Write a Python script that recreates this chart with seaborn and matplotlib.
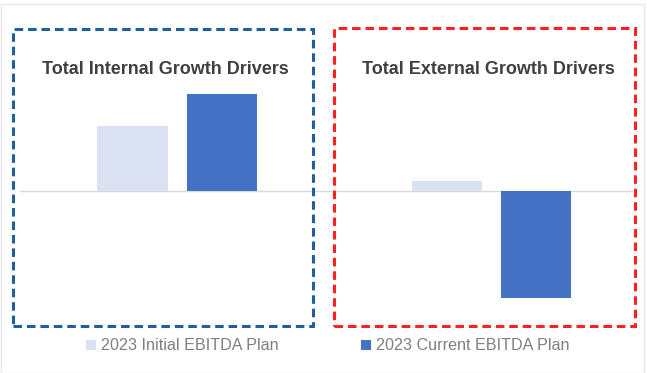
import matplotlib
matplotlib.use("Agg")
import matplotlib.pyplot as plt
import seaborn as sns
import pandas as pd
from matplotlib.patches import Rectangle

categories = ["Total Internal Growth Drivers", "Total External Growth Drivers"]
series = ["2023 Initial EBITDA Plan", "2023 Current EBITDA Plan"]
initial_plan = [65, 10]
current_plan = [97, -107]

df = pd.DataFrame({
    "category": categories * 2,
    "series": [series[0]] * 2 + [series[1]] * 2,
    "value": initial_plan + current_plan,
})

sns.set_theme(style="white")
plt.rcParams["font.family"] = ["Liberation Sans", "DejaVu Sans"]

W, H = 647, 373
fig = plt.figure(figsize=(W / 100, H / 100), dpi=100)
# axes in pixel coords: left 20, right 633, top 40, bottom 320
ax = fig.add_axes([20 / W, 1 - 320 / H, (633 - 20) / W, (320 - 40) / H])

palette = {series[0]: "#D9E1F2", series[1]: "#4472C4"}
sns.barplot(data=df, x="category", y="value", hue="series", palette=palette,
            order=categories, hue_order=series, width=0.567, gap=0.213,
            edgecolor="none", saturation=1, legend=False, ax=ax)

ax.set_xlim(-0.5, 1.452)
ax.set_ylim(-129.5, 150.5)
ax.axhline(0, color="#D9D9D9", lw=1.0, zorder=0)
for s in ax.spines.values():
    s.set_visible(False)
ax.set_xticks([])
ax.set_yticks([])
ax.set_xlabel("")
ax.set_ylabel("")
ax.patch.set_alpha(0)

# Titles
title_pos = [(165, 70), (488, 70)]
for cat, (px, py) in zip(categories, title_pos):
    fig.text(px / W, 1 - py / H, cat, ha="center", va="center",
             fontsize=13, fontweight="bold", color="#404040")

# Dashed boxes
def box(x0, y0, x1, y1, color):
    r = Rectangle((x0 / W, 1 - y1 / H), (x1 - x0) / W, (y1 - y0) / H,
                  transform=fig.transFigure, fill=False, edgecolor=color,
                  lw=2.2, linestyle=(0, (2.8, 1.6)), zorder=5)
    fig.patches.append(r)

box(13, 29, 313, 326, "#1F5FA0")
box(334, 28, 635, 326, "#FF2020")

# Outer border
fig.patches.append(Rectangle((0.5 / W, 0.5 / H), (W - 4) / W, (H - 4) / H,
                             transform=fig.transFigure, fill=False,
                             edgecolor="#E6E6E6", lw=1.0))

# Legend
handles = [Rectangle((0, 0), 1, 1, facecolor=palette[s], edgecolor="none") for s in series]
leg = fig.legend(handles, series, loc="center", bbox_to_anchor=(328 / W, 1 - 346 / H),
                 ncol=2, frameon=False, fontsize=11.6, handlelength=0.6,
                 handleheight=0.6, handletextpad=0.35, columnspacing=5.1,
                 labelcolor="#7F7F7F")

fig.savefig("out.png", dpi=100)
